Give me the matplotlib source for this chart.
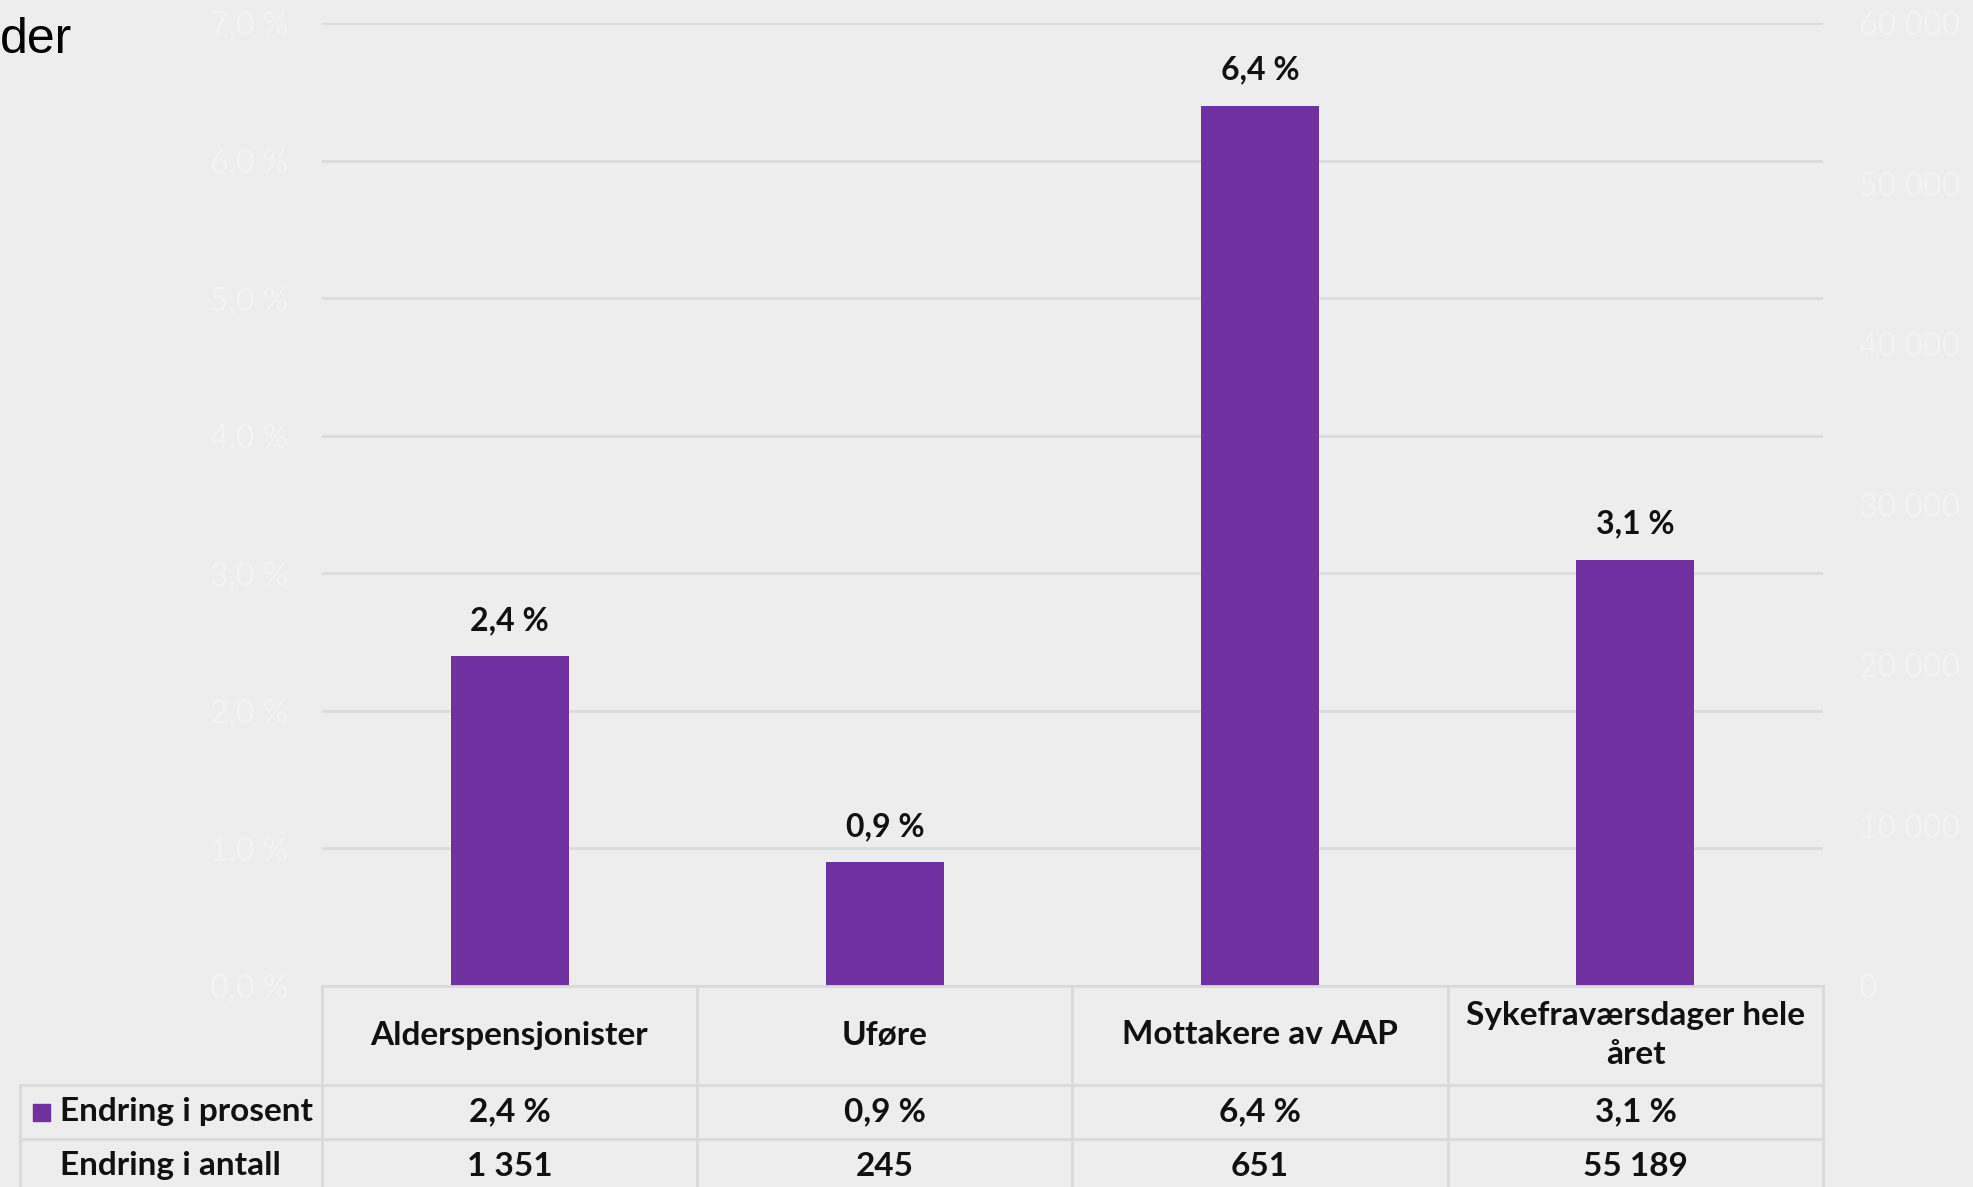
import matplotlib.pyplot as plt
from matplotlib.patches import Rectangle

categories = ["Alderspensjonister", "Uføre", "Mottakere av AAP", "Sykefraværsdager hele\nåret"]
pct_change = [2.4, 0.9, 6.4, 3.1]
count_change = [1351, 245, 651, 55189]
pct_labels = ["2,4 %", "0,9 %", "6,4 %", "3,1 %"]
count_labels = ["1 351", "245", "651", "55 189"]
left_ticks = [0, 1, 2, 3, 4, 5, 6, 7]
right_ticks = [0, 10000, 20000, 30000, 40000, 50000, 60000]
row_names = ["Endring i prosent", "Endring i antall"]

bg = "#EDEDED"
purple = "#7030A0"
grid_col = "#D9D9D9"
faint = "#F3F3F3"

W, H = 1974, 1187
fig = plt.figure(figsize=(W / 100, H / 100), dpi=100, facecolor=bg)
plt.rcParams['font.family'] = ['Lato', 'DejaVu Sans']

# plot area in pixels
x0, x1 = 322, 1823
y_top, y_bot = 23, 986
ax = fig.add_axes([x0 / W, 1 - y_bot / H, (x1 - x0) / W, (y_bot - y_top) / H])
ax.set_facecolor(bg)
ax.set_xlim(-0.5, len(categories) - 0.5)
ax.set_ylim(0, 7)

ax.set_yticks(left_ticks)
ax.set_yticklabels([f"{t},0 %" for t in left_ticks], color=faint, fontsize=23)
ax.tick_params(axis='y', length=0, pad=24)
ax.set_xticks([])
for s in ax.spines.values():
    s.set_visible(False)
ax.grid(axis='y', color=grid_col, linewidth=1.8)
ax.set_axisbelow(True)

bars = ax.bar(range(len(categories)), pct_change, width=0.315, color=purple, zorder=3)
for b, lab in zip(bars, pct_labels):
    ax.annotate(lab, (b.get_x() + b.get_width() / 2, b.get_height()),
                xytext=(0, 15), textcoords='offset points', ha='center', va='bottom',
                fontsize=23, fontweight='bold', color='#111111')

ax2 = ax.twinx()
ax2.set_ylim(0, 60000)
ax2.set_yticks(right_ticks)
ax2.set_yticklabels([f"{t:,}".replace(",", " ") for t in right_ticks], color=faint, fontsize=23)
ax2.tick_params(axis='y', length=0, pad=26)
for s in ax2.spines.values():
    s.set_visible(False)

# data table below the plot
def fx(px):
    return px / W

def fy(py):
    return 1 - py / H

col_edges = [322, 697, 1072, 1448, 1823]
row_lines = [986, 1085, 1139]
legend_left = 20
lw = 2.0
fig.add_artist(plt.Line2D([fx(x0), fx(x1)], [fy(986), fy(986)], color=grid_col, lw=lw))
for y in row_lines[1:]:
    fig.add_artist(plt.Line2D([fx(legend_left), fx(x1)], [fy(y), fy(y)], color=grid_col, lw=lw))
for x in col_edges:
    fig.add_artist(plt.Line2D([fx(x), fx(x)], [fy(986), fy(H + 5)], color=grid_col, lw=lw))
fig.add_artist(plt.Line2D([fx(legend_left), fx(legend_left)], [fy(1085), fy(H + 5)], color=grid_col, lw=lw))

hdr_y = 1035
row_y = [1112, 1166]
txt = dict(fontsize=24, fontweight='bold', color='#111111')
for i, cat in enumerate(categories):
    cx = (col_edges[i] + col_edges[i + 1]) / 2
    fig.text(fx(cx), fy(hdr_y), cat, ha='center', va='center', linespacing=1.4, **txt)
    fig.text(fx(cx), fy(row_y[0]), pct_labels[i], ha='center', va='center', **txt)
    fig.text(fx(cx), fy(row_y[1]), count_labels[i], ha='center', va='center', **txt)

fig.add_artist(Rectangle((fx(33), fy(1121)), fx(17), 17 / H, color=purple))
fig.text(fx(60), fy(row_y[0]), row_names[0], ha='left', va='center', **txt)
fig.text(fx(60), fy(row_y[1]), row_names[1], ha='left', va='center', **txt)

fig.text(0, fy(53), "der", ha='left', va='baseline', fontsize=36,
         family='Liberation Sans', color='black')

fig.savefig("out.png", dpi=100, facecolor=bg)
